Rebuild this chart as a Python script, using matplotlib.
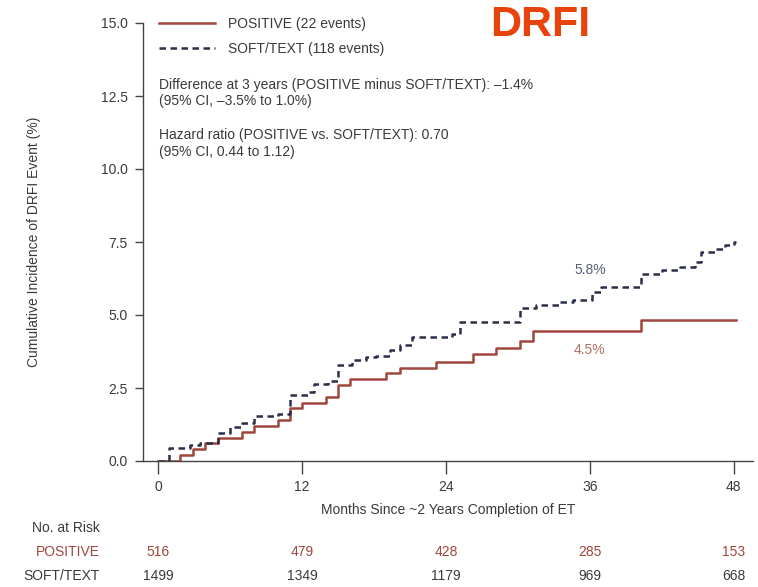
"""Courbe d'incidence cumulée DRFI : POSITIVE vs SOFT/TEXT, avec tableau des effectifs à risque."""

import matplotlib

matplotlib.use("Agg")
import matplotlib.pyplot as plt
import matplotlib.transforms as mtransforms

plt.rcParams["font.family"] = ["Liberation Sans", "DejaVu Sans"]

# Données (mois, incidence cumulée en %)
pos_months = [0, 1.8, 2.9, 3.9, 5.0, 7.0, 8.0, 10.0, 11.0, 12.0, 14.0, 15.0, 16.0,
              19.0, 20.2, 23.2, 26.3, 28.2, 30.2, 31.3, 40.3, 48.2]
pos_values = [0, 0.2, 0.4, 0.6, 0.8, 1.0, 1.2, 1.4, 1.8, 2.0, 2.2, 2.6, 2.8,
              3.0, 3.2, 3.4, 3.65, 3.87, 4.1, 4.45, 4.83, 4.83]

soft_months = [0, 0.9, 2.7, 3.5, 5.0, 6.0, 7.0, 8.0, 10.0, 11.0, 12.5, 13.0, 14.2,
               15.0, 16.2, 17.3, 18.2, 19.3, 20.2, 21.2, 24.5, 25.2, 30.2, 31.5,
               33.5, 34.6, 36.2, 36.9, 40.3, 42.0, 43.5, 44.8, 45.3, 46.5, 47.3,
               48.0, 48.2]
soft_values = [0, 0.45, 0.55, 0.62, 0.95, 1.15, 1.3, 1.55, 1.6, 2.25, 2.35, 2.65, 2.75,
               3.3, 3.45, 3.55, 3.6, 3.8, 3.97, 4.25, 4.35, 4.75, 5.24, 5.35,
               5.45, 5.5, 5.8, 5.95, 6.4, 6.55, 6.65, 6.8, 7.15, 7.25, 7.4,
               7.5, 7.5]

risk_months = [0, 12, 24, 36, 48]
risk_positive = [516, 479, 428, 285, 153]
risk_soft = [1499, 1349, 1179, 969, 668]

y_ticks = [0, 2.5, 5.0, 7.5, 10.0, 12.5, 15.0]

RED = "#a0463c"
NAVY = "#2b2f4a"
GREY = "#3a3a3a"

fig = plt.figure(figsize=(7.58, 5.87), dpi=100)
ax = fig.add_axes([143 / 758, 1 - 461 / 587, 610 / 758, 438 / 587])

ax.step(pos_months, pos_values, where="post", color=RED, linewidth=1.8,
        label="POSITIVE (22 events)")
ax.step(soft_months, soft_values, where="post", color=NAVY, linewidth=1.8,
        dashes=(2.6, 1.8), label="SOFT/TEXT (118 events)")

ax.set_xlim(-1.25, 49.6)
ax.set_ylim(0, 15)
ax.set_xticks(risk_months)
ax.set_yticks(y_ticks)
ax.set_yticklabels([f"{v:.1f}" for v in y_ticks])
for side in ("top", "right"):
    ax.spines[side].set_visible(False)
for side in ("left", "bottom"):
    ax.spines[side].set_color("#444444")
    ax.spines[side].set_linewidth(1.0)
ax.tick_params(axis="x", length=9, width=1, color="#444444", labelsize=10,
               labelcolor=GREY, pad=5)
ax.tick_params(axis="y", length=6, width=1, color="#444444", labelsize=10,
               labelcolor=GREY, pad=5)

ax.set_xlabel("Months Since ~2 Years Completion of ET", fontsize=10, color=GREY,
              labelpad=6)
fig.text(34 / 758, 1 - 242 / 587, "Cumulative Incidence of DRFI Event (%)",
         rotation=90, ha="center", va="center", fontsize=10, color=GREY)

leg = ax.legend(loc="upper left", bbox_to_anchor=(0.027, 1.014), frameon=False,
                fontsize=10, handlelength=4.0, handletextpad=0.9,
                labelspacing=0.82, borderpad=0, borderaxespad=0)
for t in leg.get_texts():
    t.set_color(GREY)

notes = [
    (85, "Difference at 3 years (POSITIVE minus SOFT/TEXT): \u20131.4%"),
    (101, "(95% CI, \u20133.5% to 1.0%)"),
    (135, "Hazard ratio (POSITIVE vs. SOFT/TEXT): 0.70"),
    (152, "(95% CI, 0.44 to 1.12)"),
]
for py, txt in notes:
    ax.text(0.027, (461 - py) / 438, txt, transform=ax.transAxes, ha="left",
            va="center", fontsize=10, color=GREY)

ax.text(36, 6.55, "5.8%", ha="center", va="center", fontsize=10, color="#5a5f78")
ax.text(36, 3.8, "4.5%", ha="center", va="center", fontsize=10, color="#b07060")

fig.text(540 / 758, 1 - 25 / 587, "DRFI", ha="center", va="center", fontsize=31,
         fontweight="bold", color="#e8430a")

# Tableau des effectifs à risque
blend = mtransforms.blended_transform_factory(ax.transData, fig.transFigure)
fig.text(100 / 758, 1 - 528 / 587, "No. at Risk", ha="right", va="center",
         fontsize=10, color=GREY)
fig.text(100 / 758, 1 - 552 / 587, "POSITIVE", ha="right", va="center",
         fontsize=10, color=RED)
fig.text(100 / 758, 1 - 576 / 587, "SOFT/TEXT", ha="right", va="center",
         fontsize=10, color=GREY)
for m, n_pos, n_soft in zip(risk_months, risk_positive, risk_soft):
    ax.text(m, 1 - 552 / 587, str(n_pos), transform=blend, ha="center",
            va="center", fontsize=10, color=RED)
    ax.text(m, 1 - 576 / 587, str(n_soft), transform=blend, ha="center",
            va="center", fontsize=10, color=GREY)

fig.savefig("out.png", dpi=100, facecolor="white")
plt.close(fig)
